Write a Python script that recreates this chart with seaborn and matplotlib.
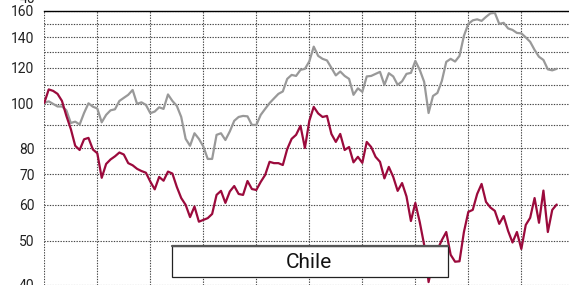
import numpy as np
import pandas as pd
import seaborn as sns
import matplotlib
matplotlib.use("Agg")
import matplotlib.pyplot as plt
from matplotlib.patches import Rectangle
from matplotlib.lines import Line2D
from matplotlib.ticker import FixedLocator, NullFormatter, FuncFormatter

# ---- data (monthly index values) ----
benchmark = [100.5, 101.3, 100.0, 98.7, 98.7, 96.8, 90.8, 91.4, 90.1, 95.5,
             100.3, 98.6, 97.7, 91.1, 94.6, 96.8, 97.3, 101.5, 103.1, 104.7,
             107.3, 100.0, 100.8, 99.5, 95.4, 96.2, 98.3, 97.5, 104.9, 101.5,
             99.0, 93.6, 83.8, 80.9, 86.2, 83.8, 80.6, 75.7, 75.7, 85.5,
             86.2, 83.3, 87.0, 91.8, 93.6, 94.1, 93.9, 89.9, 89.9, 94.6,
             97.5, 100.4, 102.8, 105.2, 106.5, 113.5, 115.8, 115.2, 118.8, 119.4,
             124.0, 133.6, 127.5, 125.6, 124.6, 120.0, 115.5, 117.8, 115.2, 113.5,
             104.7, 108.2, 106.3, 114.9, 115.2, 116.4, 117.6, 110.1, 116.8, 114.9,
             110.1, 112.1, 116.4, 117.0, 124.3, 118.8, 111.8, 95.5, 104.1, 105.7,
             112.3, 123.7, 125.6, 123.9, 127.5, 141.1, 149.9, 152.6, 153.4, 152.2,
             155.3, 158.1, 158.5, 149.9, 150.7, 146.5, 145.4, 143.2, 142.9, 140.0,
             136.9, 131.4, 126.9, 124.9, 119.1, 118.5, 119.4]

chile = [100.5, 107.6, 106.8, 105.2, 101.5, 94.1, 88.1, 80.9, 79.2, 83.6,
         84.2, 79.4, 77.9, 68.8, 73.8, 75.5, 76.7, 78.2, 77.4, 74.1,
         73.3, 72.0, 71.2, 70.6, 67.5, 64.9, 69.1, 67.8, 71.0, 70.3,
         65.7, 62.1, 60.0, 56.4, 59.5, 55.1, 55.6, 56.1, 57.3, 63.1,
         64.4, 60.6, 64.2, 66.0, 63.4, 63.1, 67.7, 65.0, 64.7, 67.4,
         69.8, 74.6, 74.1, 74.1, 73.4, 79.6, 83.8, 85.5, 89.5, 80.0,
         91.8, 98.5, 95.3, 93.6, 94.1, 85.9, 82.5, 85.9, 79.2, 80.4,
         74.4, 76.5, 74.2, 82.5, 80.4, 76.5, 74.6, 68.6, 72.7, 69.1,
         64.4, 67.0, 62.6, 55.3, 60.6, 55.0, 49.0, 40.6, 45.0, 47.8,
         50.2, 52.3, 46.6, 45.0, 45.1, 52.3, 57.9, 58.5, 63.4, 66.7,
         60.9, 59.2, 58.2, 54.5, 56.7, 52.6, 49.6, 52.3, 48.0, 54.2,
         56.2, 62.1, 54.8, 64.5, 52.3, 58.5, 60.1]

months = list(range(len(chile)))
year_starts = [0, 12, 24, 36, 48, 60, 72, 84, 96, 108]
y_labels = [40, 50, 60, 70, 80, 100, 120, 140, 160]
y_minor = [90, 110, 130, 150]
title = "Chile"

# ---- style ----
sns.set_style("white")
plt.rcParams["font.family"] = ["Roboto", "DejaVu Sans"]

W, H = 569, 285
fig = plt.figure(figsize=(W / 100, H / 100), dpi=100)
ax = fig.add_axes([44.3 / W, 0.0, (W - 44.3) / W, 274 / H])

n = len(chile)
df = pd.DataFrame({
    "month": months + months,
    "value": benchmark + chile,
    "series": ["Benchmark"] * n + ["Chile"] * n,
})
sns.lineplot(data=df, x="month", y="value", hue="series",
             hue_order=["Benchmark", "Chile"],
             palette={"Benchmark": "#999999", "Chile": "#9b0a3c"},
             linewidth=1.6, legend=False, ax=ax, zorder=3)

ax.set_yscale("log")
ax.set_ylim(40, 160)
ax.set_xlim(0, (W - 44.3) / 4.417)

ax.yaxis.set_major_locator(FixedLocator(y_labels))
ax.yaxis.set_major_formatter(FuncFormatter(lambda v, p: f"{int(round(v))}"))
ax.yaxis.set_minor_locator(FixedLocator(y_minor))
ax.yaxis.set_minor_formatter(NullFormatter())
ax.xaxis.set_major_locator(FixedLocator(year_starts))
ax.xaxis.set_minor_locator(FixedLocator([]))
ax.set_xticklabels([])
ax.set_xlabel("")
ax.set_ylabel("")

grid_kw = dict(color="#444444", linestyle=(0, (1.2, 1.2)), linewidth=0.8)
ax.grid(True, which="both", axis="y", **grid_kw)
ax.grid(True, which="major", axis="x", **grid_kw)
ax.set_axisbelow(True)

ax.tick_params(axis="both", which="both", length=0)
ax.tick_params(axis="y", pad=7, labelsize=10, labelcolor="#222222")

for side in ["left", "right", "bottom"]:
    ax.spines[side].set_visible(False)
ax.spines["top"].set_visible(True)
ax.spines["top"].set_color("black")
ax.spines["top"].set_linewidth(1.0)

# cut-off label of the panel above
fig.text(35 / W, 1 + 1 / H, "40", ha="right", va="center",
         fontsize=10, color="#222222")

# title box
bx0, bx1 = 172 / W, 447.5 / W
by0, by1 = 1 - 277 / H, 1 - 246 / H
rect = Rectangle((bx0, by0), bx1 - bx0, by1 - by0, transform=fig.transFigure,
                 facecolor="white", edgecolor="#222222", linewidth=0.9, zorder=10)
fig.add_artist(rect)
fig.add_artist(Line2D([bx0, bx1], [by1, by1], transform=fig.transFigure,
                      color="#555555", linewidth=1.6, zorder=11))
fig.text(309 / W, 1 - 262 / H, title, ha="center", va="center",
         fontsize=15, color="#111111", zorder=12)

fig.savefig("out.png", dpi=100)
